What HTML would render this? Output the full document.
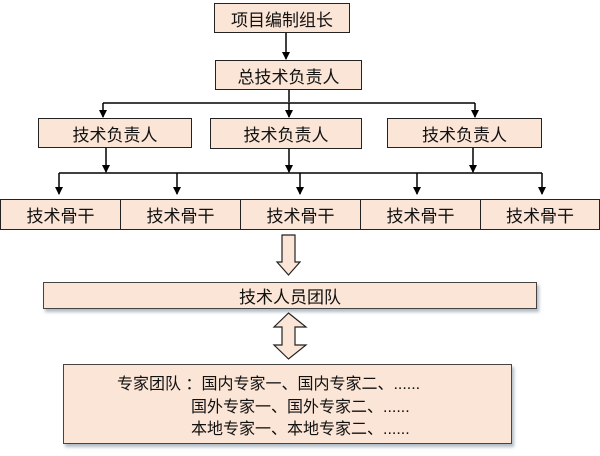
<!DOCTYPE html>
<html><head><meta charset="utf-8"><style>
body{margin:0;width:600px;height:456px;background:#fff;overflow:hidden;position:relative;font-family:"Liberation Sans","Noto Sans CJK SC",sans-serif;}
.b{position:absolute;background:#fbe5d6;border:1.5px solid #222;box-sizing:border-box;display:flex;align-items:center;justify-content:center;font-size:17px;color:#111;}
.s{box-shadow:2px 3px 3px rgba(100,120,140,.5);border:1px solid #444;}
svg{position:absolute;left:0;top:0;}
.t{position:absolute;white-space:pre;font-size:16px;}
</style></head><body>
<svg width="600" height="456">
<defs><marker id="a" markerWidth="8" markerHeight="8" refX="7" refY="4" orient="auto" markerUnits="userSpaceOnUse"><path d="M0,0L8,4L0,8z" fill="#000"/></marker></defs>
<g stroke="#000" stroke-width="1.5" fill="none">
<line x1="286" y1="33" x2="286" y2="59" marker-end="url(#a)"/>
<line x1="289" y1="90" x2="289" y2="102"/>
<line x1="103" y1="103" x2="475" y2="103"/>
<line x1="103" y1="103" x2="103" y2="117" marker-end="url(#a)"/>
<line x1="289" y1="103" x2="289" y2="117" marker-end="url(#a)"/>
<line x1="475" y1="103" x2="475" y2="117" marker-end="url(#a)"/>
<line x1="106" y1="148" x2="106" y2="172" marker-end="url(#a)"/>
<line x1="289" y1="149" x2="289" y2="172" marker-end="url(#a)"/>
<line x1="473" y1="148" x2="473" y2="172" marker-end="url(#a)"/>
<line x1="59" y1="173" x2="542" y2="173"/>
<line x1="59" y1="173" x2="59" y2="194" marker-end="url(#a)"/>
<line x1="177" y1="173" x2="177" y2="194" marker-end="url(#a)"/>
<line x1="300" y1="173" x2="300" y2="194" marker-end="url(#a)"/>
<line x1="417" y1="173" x2="417" y2="194" marker-end="url(#a)"/>
<line x1="542" y1="173" x2="542" y2="194" marker-end="url(#a)"/>
</g>
<path d="M282,235H295V262H300L288.5,275L277,262H282Z" fill="#fbe5d6" stroke="#222" stroke-width="1.2"/>
<path d="M288.5,313L306,327H295V345H306L288.5,359L274,345H282V327H274Z" fill="#fbe5d6" stroke="#222" stroke-width="1.2"/>
</svg>
<div class="b" style="left:214px;top:3px;width:136px;height:30px">项目编制组长</div>
<div class="b" style="left:215px;top:60px;width:147px;height:30px">总技术负责人</div>
<div class="b" style="left:38px;top:118px;width:154px;height:30px">技术负责人</div>
<div class="b" style="left:210px;top:118px;width:152px;height:31px">技术负责人</div>
<div class="b" style="left:387px;top:118px;width:155px;height:30px">技术负责人</div>
<div class="b" style="left:0;top:199px;width:121px;height:31px">技术骨干</div>
<div class="b" style="left:120px;top:199px;width:121px;height:31px">技术骨干</div>
<div class="b" style="left:240px;top:199px;width:121px;height:31px">技术骨干</div>
<div class="b" style="left:360px;top:199px;width:121px;height:31px">技术骨干</div>
<div class="b" style="left:480px;top:199px;width:120px;height:31px">技术骨干</div>
<div class="b s" style="left:43px;top:282px;width:494px;height:27px">技术人员团队</div>
<div class="b s" style="left:63px;top:364px;width:449px;height:80px;display:block;">
<div class="t" style="left:53px;top:5px">专家团队 ：国内专家一、国内专家二、......</div>
<div class="t" style="left:127px;top:28px">国外专家一、国外专家二、......</div>
<div class="t" style="left:127px;top:50px">本地专家一、本地专家二、......</div>
</div>
</body></html>
